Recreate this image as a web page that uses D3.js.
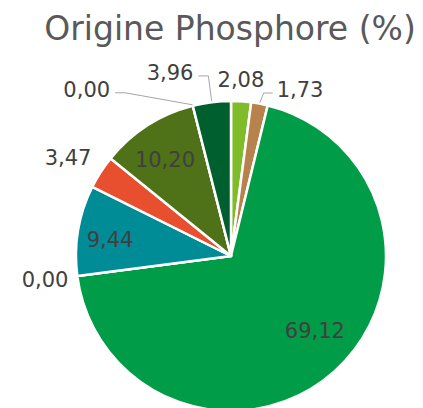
<!DOCTYPE html>
<html>
<head>
<meta charset="utf-8">
<script src="https://cdn.jsdelivr.net/npm/d3@7"></script>
<style>
  body { margin: 0; background: #fff; }
  svg { display: block; }
</style>
</head>
<body>
<svg id="chart"></svg>
<script>
const sources = ['S1', 'S2', 'S3', 'S4', 'S5', 'S6', 'S7', 'S8', 'S9'];
const shares = [2.08, 1.73, 69.12, 0.00, 9.44, 3.47, 10.20, 0.00, 3.96];
const sliceColors = ['#80bc29', '#b8824c', '#009c47', '#bdbdbd', '#008c96', '#e74f2e', '#4f7118', '#8c8c8c', '#005f2e'];

// label placement: [radius factor, angle shift in degrees, leader?]
const labelPlace = [
  [1.135, -0.5, false],
  [1.16, 12, true],
  [0.726, -6.3, false],
  [1.21, 0, false],
  [0.787, -2, false],
  [1.226, -1.8, false],
  [0.752, -1.9, false],
  [1.42, -26.7, true],
  [1.245, -11.3, true]
];

const width = 423;
const height = 408;
const cx = 231, cy = 256, r = 155;

const svg = d3.select('#chart')
  .attr('width', width)
  .attr('height', height);

svg.append('text')
  .attr('x', 230)
  .attr('y', 40)
  .attr('text-anchor', 'middle')
  .style('font-family', "'DejaVu Sans', sans-serif")
  .style('font-size', '33px')
  .attr('fill', '#595959')
  .text('Origine Phosphore (%)');

const data = sources.map((s, i) => ({ source: s, value: shares[i], color: sliceColors[i], place: labelPlace[i] }));

const pie = d3.pie().sort(null).value(d => d.value);
const arc = d3.arc().innerRadius(0).outerRadius(r);
const arcs = pie(data);

const g = svg.append('g').attr('transform', `translate(${cx},${cy})`);

g.selectAll('path')
  .data(arcs)
  .enter()
  .append('path')
  .attr('d', arc)
  .attr('fill', d => d.data.color)
  .attr('stroke', '#fff')
  .attr('stroke-width', 2.5)
  .attr('stroke-linejoin', 'round');

const polar = (angle, rad) => [Math.sin(angle) * rad, -Math.cos(angle) * rad];
const fmt = v => v.toFixed(2).replace('.', ',');

arcs.forEach(a => {
  const mid = (a.startAngle + a.endAngle) / 2;
  const [rf, shift, leader] = a.data.place;
  const [lx, ly] = polar(mid + shift * Math.PI / 180, rf * r);

  const t = g.append('text')
    .attr('x', lx)
    .attr('y', ly)
    .attr('text-anchor', 'middle')
    .attr('dominant-baseline', 'central')
    .style('font-family', "'DejaVu Sans', sans-serif")
    .style('font-size', '21px')
    .attr('fill', '#404040')
    .text(fmt(a.data.value));

  if (leader) {
    const w = t.node().getComputedTextLength();
    const [px, py] = polar(mid, r + 1);
    const ey = ly + 3;
    let x0, x1;
    if (px > lx) {
      x0 = lx + w / 2 + 5;
      x1 = x0 + 10;
    } else {
      x0 = lx - w / 2 - 4;
      x1 = x0 - 9;
    }
    g.append('polyline')
      .attr('points', [[x0, ey], [x1, ey], [px, py]].map(p => p.join(',')).join(' '))
      .attr('fill', 'none')
      .attr('stroke', '#a6a6a6')
      .attr('stroke-width', 1);
  }
});
</script>
</body>
</html>
